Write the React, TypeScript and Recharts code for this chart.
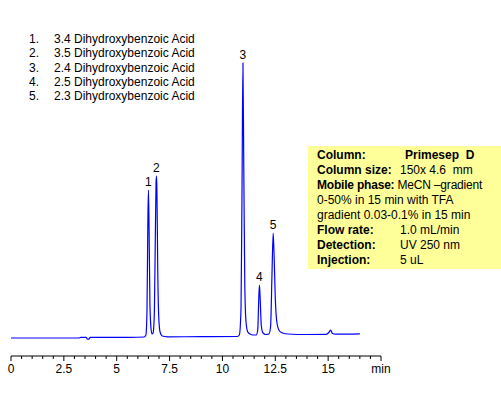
import React from "react";
import { LineChart, Line, XAxis, YAxis, ReferenceDot } from "recharts";

// retention time (min) and detector signal
const times = [
  0, 3.2, 3.3, 3.55, 3.62, 3.68, 3.75, 5.6, 6.3, 6.38, 6.43, 6.47, 6.5, 6.53,
  6.57, 6.62, 6.67, 6.72, 6.78, 6.82, 6.86, 6.88, 6.9, 6.94, 6.99, 7.05, 7.15,
  7.4, 9, 10.7, 10.8, 10.88, 10.93, 10.97, 11.01, 11.06, 11.12, 11.2, 11.3,
  11.45, 11.6, 11.67, 11.72, 11.75, 11.78, 11.84, 11.92, 12.05, 12.2, 12.28,
  12.34, 12.4, 12.44, 12.5, 12.58, 12.7, 12.85, 13.1, 14.0, 14.9, 15.05, 15.12,
  15.2, 15.35, 16.5,
];
const signal = [
  0, 0, 0.6, 0.6, -1.2, -1.2, 0.6, 0.6, 1, 3, 25, 110, 148, 110,
  35, 10, 4, 5, 25, 90, 155, 162, 150, 70, 20, 6, 2,
  1.2, 1.3, 1.5, 3, 30, 160, 275, 170, 50, 15, 6, 4,
  3, 3, 8, 40, 53, 42, 12, 5, 3.5, 4, 12,
  60, 105, 85, 40, 15, 7, 5, 4, 3.5, 3.6, 6, 8,
  4.5, 3.8, 4.2,
];

const peakTimes = [6.5, 6.88, 10.97, 11.75, 12.4];
const peakHeights = [148, 162, 275, 53, 105];
const peakNames = ["1", "2", "3", "4", "5"];

const compounds = [
  "3.4 Dihydroxybenzoic Acid",
  "3.5 Dihydroxybenzoic Acid",
  "2.4 Dihydroxybenzoic Acid",
  "2.5 Dihydroxybenzoic Acid",
  "2.3 Dihydroxybenzoic Acid",
];

const xTicks = [
  0, 0.5, 1, 1.5, 2, 2.5, 3, 3.5, 4, 4.5, 5, 5.5, 6, 6.5, 7, 7.5, 8, 8.5, 9,
  9.5, 10, 10.5, 11, 11.5, 12, 12.5, 13, 13.5, 14, 14.5, 15, 15.5, 16, 16.5,
  17, 17.5,
];
const majorTicks = [0, 2.5, 5, 7.5, 10, 12.5, 15, 17.5];
const majorLabels = ["0", "2.5", "5", "7.5", "10", "12.5", "15", "min"];

const condLabels = [
  "Column:",
  "Column size:",
  "Mobile phase:",
  "",
  "",
  "Flow rate:",
  "Detection:",
  "Injection:",
];
const condValues = [
  "Primesep  D",
  "150x 4.6  mm",
  "MeCN \u2013gradient",
  "0-50% in 15 min with TFA",
  "gradient 0.03-0.1% in 15 min",
  "1.0 mL/min",
  "UV 250 nm",
  "5 uL",
];

const data = times.map((t, i) => ({ t, v: signal[i] }));

const font = "'Liberation Sans', Arial, sans-serif";

const AxisTick = (props: any) => {
  const { x, y, payload } = props;
  const idx = majorTicks.indexOf(payload.value);
  const major = idx >= 0;
  return (
    <g>
      <line x1={x} y1={y} x2={x} y2={y + (major ? 5 : 3)} stroke="#000" />
      {major && (
        <text
          x={x}
          y={y + 17}
          textAnchor="middle"
          fontSize={12}
          fontFamily={font}
          fill="#000"
        >
          {majorLabels[idx]}
        </text>
      )}
    </g>
  );
};

export default function App() {
  return (
    <div
      style={{
        position: "absolute",
        left: 0,
        top: 0,
        width: 501,
        height: 394,
        background: "#fff",
        fontFamily: font,
        fontSize: 12,
      }}
    >
      <LineChart
        width={501}
        height={394}
        data={data}
        margin={{ top: 20, right: 120, left: 11, bottom: 8 }}
      >
        <XAxis
          dataKey="t"
          type="number"
          domain={[0, 17.5]}
          ticks={xTicks}
          interval={0}
          tickSize={0}
          tickMargin={0}
          tickLine={false}
          axisLine={{ stroke: "#000" }}
          tick={<AxisTick />}
          height={30}
        />
        <YAxis hide domain={[-18, 318]} />
        <Line
          type="monotone"
          dataKey="v"
          stroke="#0000ff"
          strokeWidth={1.2}
          dot={false}
          isAnimationActive={false}
        />
        {peakTimes.map((pt, i) => (
          <ReferenceDot
            key={peakNames[i]}
            x={pt}
            y={peakHeights[i]}
            r={0}
            stroke="none"
            label={{
              value: peakNames[i],
              position: "top",
              offset: 4,
              fontSize: 12,
              fontFamily: font,
              fill: "#000",
            }}
          />
        ))}
      </LineChart>

      <div style={{ position: "absolute", left: 29, top: 32, lineHeight: "14.3px" }}>
        {compounds.map((c, i) => (
          <div key={c} style={{ position: "relative", height: 14.3, whiteSpace: "nowrap" }}>
            <span>{i + 1}.</span>
            <span style={{ position: "absolute", left: 25 }}>{c}</span>
          </div>
        ))}
      </div>

      <div
        style={{
          position: "absolute",
          left: 308,
          top: 146,
          width: 193,
          height: 123,
          background: "#ffff99",
        }}
      >
        <div style={{ paddingTop: 2, lineHeight: "15px" }}>
          {condValues.map((v, i) => (
            <div key={i} style={{ position: "relative", height: 15, whiteSpace: "nowrap" }}>
              {condLabels[i] === "Mobile phase:" ? (
                <span style={{ position: "absolute", left: 9, letterSpacing: -0.2 }}>
                  <b>{condLabels[i]}</b> {v}
                </span>
              ) : condLabels[i] ? (
                <>
                  <span style={{ position: "absolute", left: 9, fontWeight: "bold" }}>
                    {condLabels[i]}
                  </span>
                  <span
                    style={{
                      position: "absolute",
                      left: i === 0 ? 97 : 92,
                      fontWeight: i === 0 ? "bold" : "normal",
                      whiteSpace: "pre",
                    }}
                  >
                    {v}
                  </span>
                </>
              ) : (
                <span style={{ position: "absolute", left: 9 }}>{v}</span>
              )}
            </div>
          ))}
        </div>
      </div>
    </div>
  );
}
